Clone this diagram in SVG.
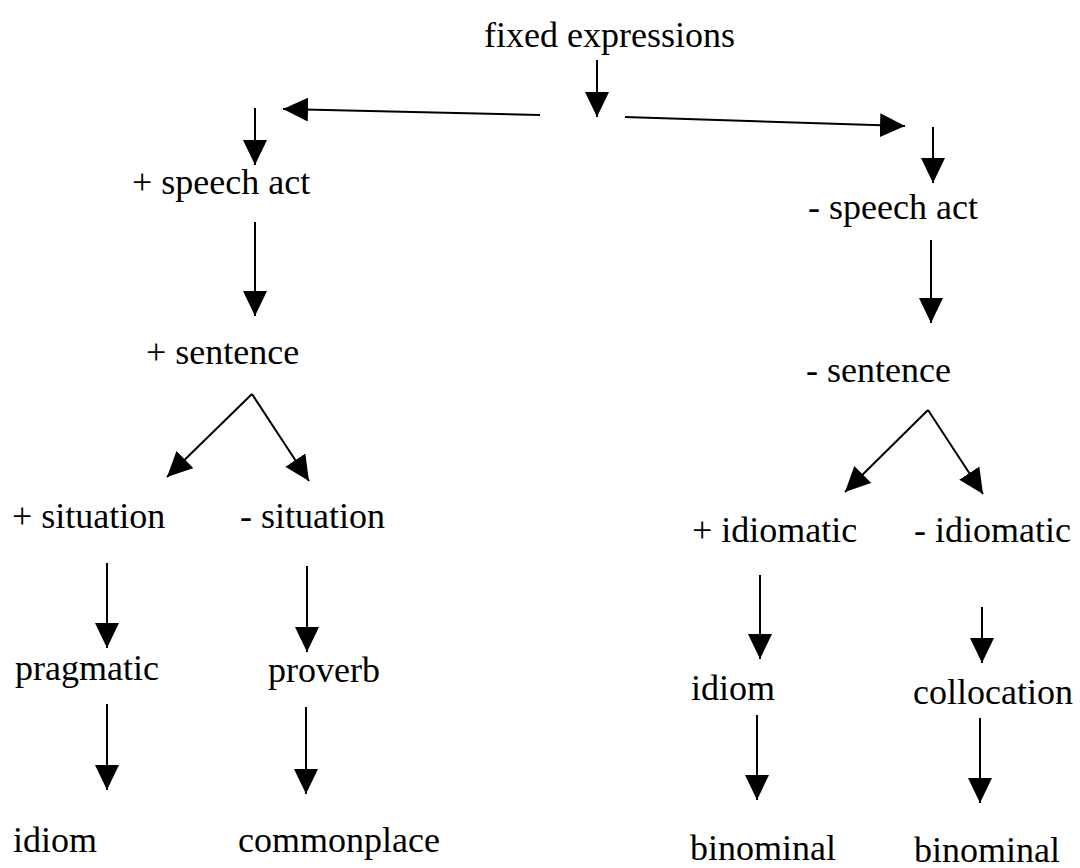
<svg xmlns="http://www.w3.org/2000/svg" width="1080" height="868" viewBox="0 0 1080 868">
<defs>
<marker id="ah" markerUnits="userSpaceOnUse" markerWidth="26" markerHeight="26" refX="25" refY="12" orient="auto" viewBox="0 0 26 26">
<path d="M0,0 L25,12 L0,24 Z" fill="#000"/>
</marker>
<style>
.t{font-family:"Liberation Serif","Times New Roman",Tinos,"DejaVu Serif",serif;font-size:36px;fill:#000}
.c line{stroke:#000;stroke-width:2;marker-end:url(#ah)}
</style>
</defs>
<rect width="1080" height="868" fill="#fff"/>
<g id="n-fixed"><text class="t" x="484" y="47">fixed expressions</text></g>
<g id="n-plus-speech"><text class="t" x="132" y="194">+ speech act</text></g>
<g id="n-minus-speech"><text class="t" x="808" y="219">- speech act</text></g>
<g id="n-plus-sentence"><text class="t" x="146" y="364">+ sentence</text></g>
<g id="n-minus-sentence"><text class="t" x="806" y="382">- sentence</text></g>
<g id="n-plus-situation"><text class="t" x="12" y="528">+ situation</text></g>
<g id="n-minus-situation"><text class="t" x="240" y="528">- situation</text></g>
<g id="n-plus-idiomatic"><text class="t" x="692" y="542">+ idiomatic</text></g>
<g id="n-minus-idiomatic"><text class="t" x="914" y="542">- idiomatic</text></g>
<g id="n-pragmatic"><text class="t" x="15" y="680">pragmatic</text></g>
<g id="n-proverb"><text class="t" x="268" y="682">proverb</text></g>
<g id="n-idiom-r"><text class="t" x="691" y="700">idiom</text></g>
<g id="n-collocation"><text class="t" x="913" y="704">collocation</text></g>
<g id="n-idiom-l"><text class="t" x="13" y="852">idiom</text></g>
<g id="n-commonplace"><text class="t" x="238" y="852">commonplace</text></g>
<g id="n-binominal-l"><text class="t" x="690" y="860">binominal</text></g>
<g id="n-binominal-r"><text class="t" x="914" y="862">binominal</text></g>
<g id="connectors" class="c">
<line x1="597" y1="60" x2="597" y2="117"/>
<line x1="540" y1="115" x2="283" y2="109"/>
<line x1="625" y1="117" x2="905" y2="126"/>
<line x1="255" y1="108" x2="255" y2="165"/>
<line x1="255" y1="222" x2="255" y2="316"/>
<line x1="252" y1="394" x2="167" y2="477"/>
<line x1="252" y1="394" x2="309" y2="481"/>
<line x1="107" y1="563" x2="107" y2="648"/>
<line x1="307" y1="566" x2="307" y2="652"/>
<line x1="107" y1="704" x2="107" y2="790"/>
<line x1="306" y1="707" x2="306" y2="794"/>
<line x1="933" y1="127" x2="933" y2="183"/>
<line x1="931" y1="240" x2="931" y2="323"/>
<line x1="928" y1="410" x2="845" y2="492"/>
<line x1="928" y1="410" x2="983" y2="494"/>
<line x1="760" y1="575" x2="760" y2="659"/>
<line x1="982" y1="607" x2="982" y2="663"/>
<line x1="757" y1="715" x2="757" y2="800"/>
<line x1="980" y1="718" x2="980" y2="803"/>
</g>
</svg>
